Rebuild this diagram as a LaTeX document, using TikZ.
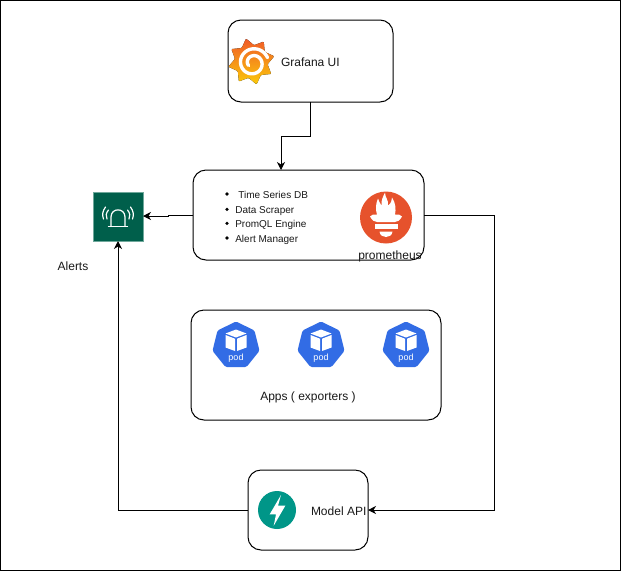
\documentclass[tikz,border=0pt]{standalone}
\usepackage{fontspec}
\setmainfont{Liberation Sans}
\usetikzlibrary{arrows.meta}
\definecolor{grafanaTop}{HTML}{F05A28}
\definecolor{grafanaBot}{HTML}{FBCA0A}
\definecolor{promOrange}{HTML}{E6522C}
\definecolor{alarmGreen}{HTML}{005F4B}
\definecolor{alarmEdge}{HTML}{6FA89B}
\definecolor{podBlue}{HTML}{326CE5}
\definecolor{fastTeal}{HTML}{009688}
\newcommand{\fs}[1]{\fontsize{#1}{#1}\selectfont}
\tikzset{
  panel/.style={draw=black,line width=1pt,rounded corners=13pt,fill=white,inner sep=0pt,outer sep=0pt},
  label12/.style={inner sep=0pt,outer sep=0pt,text=black!90,font=\fs{12}},
  item10/.style={inner sep=0pt,outer sep=0pt,anchor=base west,text=black!90,font=\fs{10}},
  conn/.style={draw=black,line width=1pt,-{Stealth[length=8pt,width=8pt,inset=2.5pt]}},
  glyph/.style={draw=white,line width=1.2pt,line cap=round}
}
\begin{document}
\begin{tikzpicture}[x=1pt,y=-1pt]
\useasboundingbox (0,0) rectangle (621,571);
\draw[black,line width=1pt,fill=white] (0.5,0.5) rectangle (620.5,570.5);

% panels
\node[panel,minimum width=165pt,minimum height=82pt] (grafana) at (310.5,61) {};
\node[panel,minimum width=231pt,minimum height=90pt] (prom) at (308.5,215) {};
\node[panel,minimum width=250pt,minimum height=110pt] (apps) at (316,365) {};
\node[panel,minimum width=120pt,minimum height=80pt] (model) at (308,510) {};
\node[draw=alarmEdge,fill=alarmGreen,line width=1pt,minimum width=50pt,minimum height=49pt,inner sep=0pt,outer sep=0pt] (alarm) at (118,216.5) {};

% connectors
\coordinate (gbend) at (281,136);
\coordinate (pbend) at (494,215);
\coordinate (mbend) at (118,510);
\draw[conn] (grafana.south) |- (gbend) -- (gbend |- prom.north);
\draw[conn] (prom.west) -- (168,215) -- (168,216) -- (alarm.east |- 0,216);
\draw[conn] (prom.east) -- (pbend) |- (model.east);
\draw[conn] (model.west) -- (mbend) -- (alarm.south);

% Grafana logo
\fill[top color=grafanaTop,bottom color=grafanaBot,rounded corners=1pt]
  plot[domain=0:15,samples=16] ({251.3+(20+3.5*cos(180*\x))*cos(-103+22.5*\x)},{61.5+(20+3.5*cos(180*\x))*sin(-103+22.5*\x)}) -- cycle;
\draw[white,line width=3.4pt,line cap=round]
  plot[domain=20:570,samples=90,smooth] ({253+(15.5-10.5*(\x-20)/550)*cos(\x)},{63+(15.5-10.5*(\x-20)/550)*sin(-\x)});

% Prometheus logo
\fill[promOrange] (386,217.5) circle (26);
\begin{scope}[shift={(386,217.5)}]
  \fill[white] (-1,-25) .. controls (-1,-20) and (3,-17) .. (2,-12)
    .. controls (5,-14) and (6,-17) .. (6,-20)
    .. controls (10,-14) and (10,-8) .. (9,-3)
    -- (13,-3) -- (16,-1) .. controls (14,3) and (11,4.5) .. (9,4.5)
    -- (-9,4.5) .. controls (-11,4.5) and (-14,3) .. (-16,-1)
    -- (-13,-3) -- (-9,-3) .. controls (-11,-9) and (-10,-14) .. (-8,-19)
    .. controls (-7,-16) and (-6,-14) .. (-4.5,-12)
    .. controls (-5,-17) and (-3,-21) .. (-1,-25) -- cycle;
  \fill[white] (-11.5,6.5) rectangle (11.5,11.7);
  \fill[white] (-6.5,14) -- (6.5,14) .. controls (6,18) and (3,19.5) .. (0,19.5) .. controls (-3,19.5) and (-6,18) .. (-6.5,14) -- cycle;
\end{scope}

% alarm glyph
\begin{scope}[shift={(118,216)}]
  \draw[glyph] (-9.5,10.5) -- (9.5,10.5);
  \draw[glyph] (-7,10.5) -- (-7,1) .. controls (-7,-8.5) and (7,-8.5) .. (7,1) -- (7,10.5);
  \draw[glyph] (-11,3) .. controls (-12.5,0) and (-12,-3) .. (-9.5,-6);
  \draw[glyph] (-14.5,3) .. controls (-16,-1) and (-15.5,-5) .. (-12.5,-9);
  \draw[glyph] (11,3) .. controls (12.5,0) and (12,-3) .. (9.5,-6);
  \draw[glyph] (14.5,3) .. controls (16,-1) and (15.5,-5) .. (12.5,-9);
\end{scope}

% pods
\foreach \cx/\nm in {236/poda,321/podb,406/podc}{
  \begin{scope}[shift={(\cx,345)}]
    \fill[podBlue,rounded corners=1.5pt] (0,-23.5) -- (18.5,-14.5) -- (23.5,5.8) -- (10.5,22) -- (-10.5,22) -- (-23.5,5.8) -- (-18.5,-14.5) -- cycle;
    \fill[white] (0,-15.5) -- (10.5,-11.5) -- (0,-7.5) -- (-10.5,-11.5) -- cycle;
    \fill[white] (-10.5,-10) -- (-1,-6.3) -- (-1,6) -- (-10.5,2.5) -- cycle;
    \fill[white] (10.5,-10) -- (1,-6.3) -- (1,6) -- (10.5,2.5) -- cycle;
    \node[inner sep=0pt,text=white,font=\fs{9}] (\nm) at (0,13) {pod};
  \end{scope}
}

% FastAPI logo
\fill[fastTeal] (277,510) circle (19);
\begin{scope}[shift={(277,510)}]
  \fill[white] (4,-15) -- (-7.3,4.3) -- (-1,4.3) -- (-3.3,15.7) -- (8.3,-4.3) -- (1,-4.3) -- cycle;
\end{scope}

% labels
\node[label12,anchor=base west] (tg) at (281,66) {Grafana UI};
\node[label12,anchor=base] (tp) at (390,259.5) {prometheus};
\node[label12,anchor=base] (ta) at (73,270) {Alerts};
\node[label12,anchor=base] (tx) at (308,400) {Apps ( exporters )};
\node[label12,anchor=base west] (tm) at (311,515) {Model API};

\node[item10] (i1) at (238.3,198) {Time Series DB};
\node[item10] (i2) at (235.3,213.3) {Data Scraper};
\node[item10] (i3) at (235.3,227.3) {PromQL Engine};
\node[item10] (i4) at (235.3,242.3) {Alert Manager};
\foreach \yy in {194,209.3,223.3,238}{\fill[black] (227,\yy) circle (1.8);}
\end{tikzpicture}
\end{document}
